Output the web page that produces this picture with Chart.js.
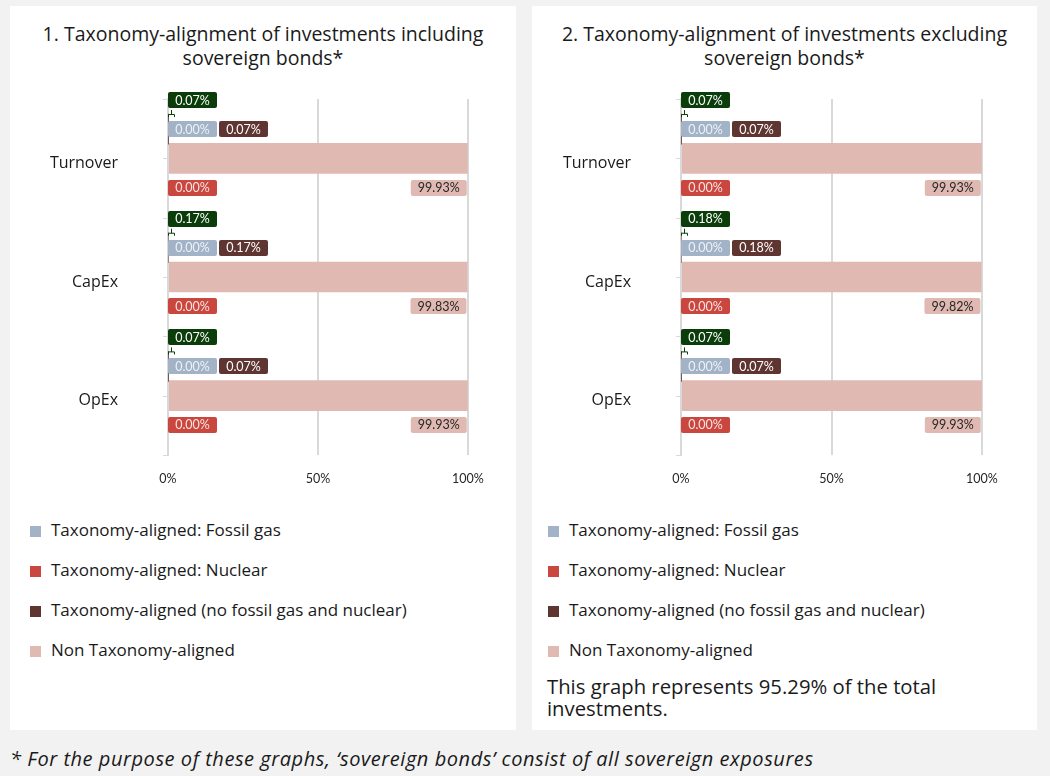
<!DOCTYPE html>
<html>
<head>
<meta charset="utf-8">
<script src="https://cdn.jsdelivr.net/npm/chart.js@4.4.1/dist/chart.umd.min.js"></script>
<style>
    body { margin: 0; background: #f2f2f2; width: 1050px; height: 776px; position: relative; overflow: hidden; font-family: "Open Sans", "Liberation Sans", sans-serif; color: #1a1a1a; }
    .panel { position: absolute; top: 6px; height: 724px; background: #fff; }
    .title { position: absolute; left: 0; right: 0; top: 16px; text-align: center; font-size: 19.5px; line-height: 24px; }
    .panel canvas { position: absolute; top: 76px; left: 0; }
    .legend { position: absolute; top: 507px; }
    .legend div { height: 40px; line-height: 34px; font-size: 17px; white-space: nowrap; }
    .legend span { display: inline-block; width: 11px; height: 11px; margin-right: 10px; vertical-align: -1px; }
    .note { position: absolute; left: 15px; top: 669px; font-size: 20.3px; line-height: 22px; width: 460px; }
    .foot { position: absolute; left: 10px; top: 745px; font-size: 20px; letter-spacing: 0.55px; font-style: italic; white-space: nowrap; }
</style>
</head>
<body>
<div class="panel" id="p1" style="left:10px;width:506px">
    <div class="title">1. Taxonomy-alignment of investments including<br>sovereign bonds*</div>
    <canvas id="chart1" width="506" height="420"></canvas>
    <div class="legend" id="legend1" style="left:20px"></div>
</div>
<div class="panel" id="p2" style="left:532px;width:505px">
    <div class="title">2. Taxonomy-alignment of investments excluding<br>sovereign bonds*</div>
    <canvas id="chart2" width="505" height="420"></canvas>
    <div class="legend" id="legend2" style="left:16px"></div>
    <div class="note">This graph represents 95.29% of the total<br>investments.</div>
</div>
<div class="foot">* For the purpose of these graphs, ‘sovereign bonds’ consist of all sovereign exposures</div>

<script>
const categories = ['Turnover', 'CapEx', 'OpEx'];
const xTickValues = [0, 50, 100];

const seriesNames = [
    'Taxonomy-aligned: Fossil gas',
    'Taxonomy-aligned: Nuclear',
    'Taxonomy-aligned (no fossil gas and nuclear)',
    'Non Taxonomy-aligned'
];
const seriesColors = ['#a2b3c8', '#c9473f', '#5e3530', '#e0bab2'];

// chart 1 : including sovereign bonds
const incFossilGas = [0.00, 0.00, 0.00];
const incNuclear = [0.00, 0.00, 0.00];
const incAligned = [0.07, 0.17, 0.07];
const incNonAligned = [99.93, 99.83, 99.93];
const incTotalAligned = [0.07, 0.17, 0.07];

// chart 2 : excluding sovereign bonds
const excFossilGas = [0.00, 0.00, 0.00];
const excNuclear = [0.00, 0.00, 0.00];
const excAligned = [0.07, 0.18, 0.07];
const excNonAligned = [99.93, 99.82, 99.93];
const excTotalAligned = [0.07, 0.18, 0.07];

const LABEL_FONT = '12.5px Lato, "Open Sans", sans-serif';

function fmt(v) {
    return v.toFixed(2) + '%';
}

function drawBox(ctx, x, y, text, bg, fg, alignRight) {
    ctx.font = LABEL_FONT;
    const w = Math.round(ctx.measureText(text).width) + 14;
    const h = 16;
    const left = alignRight ? x - w : x;
    ctx.fillStyle = bg;
    ctx.beginPath();
    ctx.roundRect(left, Math.round(y - h / 2), w, h, 2);
    ctx.fill();
    ctx.fillStyle = fg;
    ctx.textAlign = 'center';
    ctx.textBaseline = 'middle';
    ctx.fillText(text, left + w / 2, y + 0.5);
    return left + w;
}

// labels drawn next to the bars, placed like the Excel data labels
const labelPlugin = {
    id: 'barLabels',
    afterDatasetsDraw(chart) {
        const ctx = chart.ctx;
        const area = chart.chartArea;
        const ds = chart.data.datasets;
        const totals = chart.options.plugins.barLabels.totals;
        ctx.save();

        // small tick marks on the category axis
        ctx.strokeStyle = '#d9d9d9';
        ctx.lineWidth = 1;
        const step = (area.bottom - area.top) / categories.length / 2;
        for (let k = 0; k <= categories.length * 2; k++) {
            const ty = Math.round(area.top + k * step) + 0.5;
            ctx.beginPath();
            ctx.moveTo(area.left - 5, ty);
            ctx.lineTo(area.left, ty);
            ctx.stroke();
        }

        categories.forEach((c, i) => {
            const fossil = chart.getDatasetMeta(0).data[i];
            const nonAl = chart.getDatasetMeta(2).data[i];
            const nuclear = chart.getDatasetMeta(3).data[i];
            const rowTop = fossil.y;
            const rowBot = nuclear.y;
            const base = area.left;

            // total aligned call-out with leader
            const gy = rowTop - 29;
            drawBox(ctx, base, gy, fmt(totals[i]), '#0b3d0b', '#ffffff', false);
            ctx.strokeStyle = '#0b3d0b';
            ctx.lineWidth = 1;
            ctx.beginPath();
            ctx.moveTo(base + 3.5, gy + 10);
            ctx.lineTo(base + 3.5, gy + 14.5);
            ctx.moveTo(base + 0.5, gy + 17);
            ctx.lineTo(base + 0.5, gy + 14.5);
            ctx.lineTo(base + 6.5, gy + 14.5);
            ctx.lineTo(base + 6.5, gy + 17);
            ctx.stroke();

            const endGray = drawBox(ctx, base, rowTop, fmt(ds[0].data[i]), '#a2b3c8', '#eef1f6', false);
            drawBox(ctx, endGray + 2, rowTop, fmt(ds[1].data[i]), '#5e3530', '#ffffff', false);
            drawBox(ctx, base, rowBot, fmt(ds[3].data[i]), '#c9473f', '#fbe4e1', false);
            drawBox(ctx, nonAl.x - 1, rowBot, fmt(ds[2].data[i]), '#e0bab2', '#262626', true);
        });
        ctx.restore();
    }
};

function makeChart(id, fossil, aligned, nonAligned, nuclear, totals, padLeft, padRight) {
    const ctx = document.getElementById(id).getContext('2d');
    return new Chart(ctx, {
        type: 'bar',
        data: {
            labels: categories,
            datasets: [
                { label: seriesNames[0], data: fossil, backgroundColor: seriesColors[0], stack: 'top' },
                { label: seriesNames[2], data: aligned, backgroundColor: seriesColors[2], stack: 'top' },
                { label: seriesNames[3], data: nonAligned, backgroundColor: seriesColors[3], stack: 'mid' },
                { label: seriesNames[1], data: nuclear, backgroundColor: seriesColors[1], stack: 'bot' }
            ]
        },
        options: {
            indexAxis: 'y',
            responsive: false,
            animation: false,
            devicePixelRatio: 1,
            categoryPercentage: 0.74,
            barPercentage: 1.05,
            layout: { padding: { left: padLeft, right: padRight, top: 17, bottom: 0 } },
            plugins: {
                legend: { display: false },
                tooltip: { enabled: false },
                barLabels: { totals: totals }
            },
            scales: {
                x: {
                    stacked: true,
                    min: 0,
                    max: 100,
                    afterBuildTicks(scale) {
                        scale.ticks = xTickValues.map(v => ({ value: v }));
                    },
                    afterFit(scale) { scale.height = 47; },
                    border: { display: false },
                    grid: { color: '#d9d9d9', lineWidth: 2, drawTicks: false },
                    ticks: {
                        padding: 16,
                        color: '#262626',
                        font: { family: 'Lato, "Open Sans", sans-serif', size: 12.5 },
                        callback: v => v + '%'
                    }
                },
                y: {
                    stacked: true,
                    afterFit(scale) { scale.width = 120; },
                    border: { display: true, color: '#d9d9d9', width: 2 },
                    grid: { display: false, drawTicks: true, tickLength: 48 },
                    ticks: {
                        padding: 2,
                        labelOffset: 5,
                        color: '#1a1a1a',
                        font: { family: '"Open Sans", "Liberation Sans", sans-serif', size: 16 }
                    }
                }
            }
        },
        plugins: [labelPlugin]
    });
}

function buildLegend(id) {
    const box = document.getElementById(id);
    seriesNames.forEach((name, i) => {
        const row = document.createElement('div');
        const sw = document.createElement('span');
        sw.style.background = seriesColors[i];
        row.appendChild(sw);
        row.appendChild(document.createTextNode(name));
        box.appendChild(row);
    });
}

makeChart('chart1', incFossilGas, incAligned, incNonAligned, incNuclear, incTotalAligned, 38, 48);
makeChart('chart2', excFossilGas, excAligned, excNonAligned, excNuclear, excTotalAligned, 29, 55);
buildLegend('legend1');
buildLegend('legend2');
</script>
</body>
</html>
